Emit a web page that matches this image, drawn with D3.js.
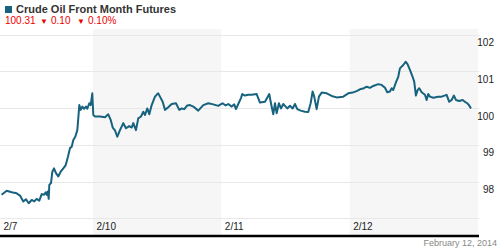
<!DOCTYPE html>
<html>
<head>
<meta charset="utf-8">
<script src="https://cdn.jsdelivr.net/npm/d3@7"></script>
<style>
  body { margin: 0; background: #fff; }
  svg { display: block; font-family: "Liberation Sans", Arial, sans-serif; }
</style>
</head>
<body>
<div id="chart"></div>
<script>
// trading sessions (hours along a compressed trading timeline)
var sessionLabels = ["2/7", "2/10", "2/11", "2/12"];
var sessionStarts = [0, 17.4, 41.4, 65.4];
var timelineEnd = 89.4;

var yLabelTicks = [98, 99, 100, 101, 102];
var yGridTicks = [97, 98, 99, 100, 101, 102];

// price series: hours since chart start, and price
var times = [0.3, 1.25, 2.19, 3.12, 3.74, 4.36, 4.86, 5.37, 5.93, 6.41, 6.86, 7.35, 7.80, 8.23, 8.55, 8.73, 8.92, 9.11, 9.22, 9.54,
  9.78, 10.10, 10.47, 10.90, 11.35, 11.84, 12.29, 12.72, 13.09, 13.41, 13.71, 14.08, 14.46, 14.64, 14.83, 15.09, 15.39, 15.71, 16.08, 16.33,
  16.70, 16.96, 17.26, 17.45, 17.77, 18.70, 19.64, 20.25, 20.70, 21.08, 21.51, 21.94, 22.44, 23.06, 23.56, 24.18, 24.63, 24.93, 25.43, 25.86,
  26.37, 26.80, 27.12, 27.55, 27.92, 28.37, 28.99, 29.30, 29.60, 29.92, 30.42, 30.86, 31.47, 32.11, 32.91, 33.53, 33.98, 34.47, 35.03, 35.53,
  36.15, 37.08, 38.02, 38.95, 39.89, 40.82, 41.27, 41.64, 42.21, 42.69, 43.33, 43.81, 44.13, 44.56, 45.07, 45.31, 45.82, 46.43, 47.07, 48.00,
  48.62, 49.56, 50.36, 50.68, 51.11, 51.43, 51.74, 52.17, 52.55, 52.98, 53.30, 53.73, 54.23, 54.73, 55.17, 55.60, 56.23, 57.04, 57.65, 58.10,
  58.47, 58.77, 59.22, 59.65, 60.16, 61.09, 62.03, 62.96, 64.20, 65.13, 65.95, 66.70, 67.32, 68.07, 68.57, 69.19, 69.81, 70.74, 71.38, 72.00,
  72.43, 72.93, 73.25, 73.55, 74.05, 74.48, 74.80, 75.42, 75.87, 76.24, 76.67, 77.17, 77.47, 77.79, 78.11, 78.41, 78.86, 79.48, 79.79, 80.09,
  80.41, 81.03, 81.96, 82.60, 83.53, 84.02, 84.47, 84.90, 85.27, 85.89, 86.53, 86.96, 87.39, 87.71, 88.09];
var prices = [97.64, 97.75, 97.71, 97.68, 97.62, 97.46, 97.52, 97.41, 97.50, 97.46, 97.53, 97.48, 97.66, 97.64, 97.71, 97.64, 97.73, 97.53, 97.91, 97.96,
  98.26, 98.36, 98.23, 98.14, 98.27, 98.36, 98.45, 98.68, 98.91, 98.95, 99.13, 99.22, 99.40, 99.72, 100.08, 99.95, 100.04, 99.98, 100.04, 99.98,
  100.13, 100.08, 100.40, 99.81, 99.77, 99.77, 99.75, 99.83, 99.68, 99.47, 99.39, 99.22, 99.40, 99.59, 99.45, 99.51, 99.47, 99.59, 99.40, 99.72,
  99.77, 99.90, 99.81, 99.99, 99.83, 100.08, 100.31, 100.36, 100.40, 100.31, 100.17, 99.95, 100.02, 100.11, 100.13, 99.95, 99.99, 99.97, 100.07, 100.08,
  100.04, 99.93, 100.08, 100.13, 100.10, 100.06, 100.10, 100.13, 100.07, 100.11, 100.04, 100.10, 99.97, 100.11, 100.27, 100.38, 100.34, 100.36, 100.36, 100.38,
  100.15, 100.17, 100.38, 100.13, 99.83, 100.13, 99.86, 100.13, 99.99, 100.11, 100.06, 99.99, 100.06, 99.99, 100.11, 99.97, 99.93, 99.90, 99.89, 100.13,
  100.45, 100.31, 99.97, 100.31, 100.42, 100.40, 100.33, 100.29, 100.31, 100.40, 100.42, 100.46, 100.51, 100.54, 100.58, 100.55, 100.60, 100.65, 100.63, 100.55,
  100.43, 100.45, 100.54, 100.49, 100.70, 100.85, 101.08, 101.17, 101.26, 101.19, 101.04, 100.85, 100.72, 100.34, 100.49, 100.54, 100.43, 100.36, 100.22, 100.38,
  100.31, 100.28, 100.31, 100.31, 100.36, 100.17, 100.22, 100.34, 100.22, 100.19, 100.22, 100.17, 100.13, 100.08, 99.99];

var data = times.map(function(t, i) { return {t: t, v: prices[i]}; });

var width = 500, height = 250;
var plot = {left: 0, right: 478, top: 29, bottom: 236};

var svg = d3.select('#chart').append('svg')
    .attr('width', width)
    .attr('height', height);

var x = d3.scaleLinear().domain([0, timelineEnd]).range([plot.left, plot.right]);
var y = d3.scaleLinear().domain([96.52, 102.15]).range([plot.bottom, plot.top]);

// alternating session bands
var bounds = sessionStarts.concat([timelineEnd]);
svg.append('g').selectAll('rect')
    .data(sessionStarts)
    .enter().append('rect')
    .attr('x', function(d) { return x(d); })
    .attr('y', plot.top)
    .attr('width', function(d, i) { return x(bounds[i + 1]) - x(d); })
    .attr('height', plot.bottom - plot.top)
    .attr('fill', function(d, i) { return i % 2 ? '#f6f6f6' : '#fff'; });

// horizontal gridlines
svg.append('g').selectAll('line')
    .data(yGridTicks)
    .enter().append('line')
    .attr('x1', plot.left)
    .attr('x2', plot.right + 1)
    .attr('y1', function(d) { return Math.round(y(d)) + 0.5; })
    .attr('y2', function(d) { return Math.round(y(d)) + 0.5; })
    .attr('stroke', '#e8e8e8')
    .attr('stroke-width', 1);

// price line
svg.append('path')
    .datum(data)
    .attr('fill', 'none')
    .attr('stroke', '#17627f')
    .attr('stroke-width', 2)
    .attr('stroke-linejoin', 'round')
    .attr('d', d3.line()
      .x(function(d) { return x(d.t); })
      .y(function(d) { return y(d.v); }));

// y axis labels (sit just under each gridline)
var yAxis = svg.append('g')
    .attr('transform', 'translate(494,0)')
    .call(d3.axisLeft(y).tickValues(yLabelTicks).tickSize(0).tickPadding(0).tickFormat(d3.format('d')));
yAxis.select('.domain').remove();
yAxis.selectAll('text')
    .attr('dy', '11px')
    .attr('fill', '#222')
    .style('font-size', '10px');

// x axis
var xAxis = svg.append('g')
    .attr('transform', 'translate(0,' + plot.bottom + ')')
    .call(d3.axisBottom(x).tickValues(sessionStarts).tickSize(0).tickSizeOuter(0)
      .tickFormat(function(d, i) { return sessionLabels[i]; }));
xAxis.select('.domain')
    .attr('stroke', '#000')
    .attr('stroke-width', 2.5)
    .attr('d', 'M0,0H' + (plot.right + 1));
xAxis.selectAll('text')
    .attr('text-anchor', 'start')
    .attr('x', 3)
    .attr('y', -6)
    .attr('dy', 0)
    .attr('fill', '#222')
    .style('font-size', '10px');

// header
svg.append('rect')
    .attr('x', 5).attr('y', 6)
    .attr('width', 7).attr('height', 7)
    .attr('fill', '#17627f');
svg.append('text')
    .attr('x', 16).attr('y', 13)
    .attr('fill', '#333')
    .style('font-size', '11px')
    .style('font-weight', 'bold')
    .text('Crude Oil Front Month Futures');

var quote = svg.append('text')
    .attr('x', 5).attr('y', 24)
    .attr('fill', '#e00')
    .style('font-size', '10px');
quote.append('tspan').text('100.31');
quote.append('tspan').attr('x', 40).style('font-size', '8px').text('▼');
quote.append('tspan').attr('x', 51).text('0.10');
quote.append('tspan').attr('x', 77).style('font-size', '8px').text('▼');
quote.append('tspan').attr('x', 88).text('0.10%');

// footer date
svg.append('text')
    .attr('x', 497).attr('y', 246)
    .attr('text-anchor', 'end')
    .attr('fill', '#888')
    .style('font-size', '9px')
    .text('February 12, 2014');
</script>
</body>
</html>
